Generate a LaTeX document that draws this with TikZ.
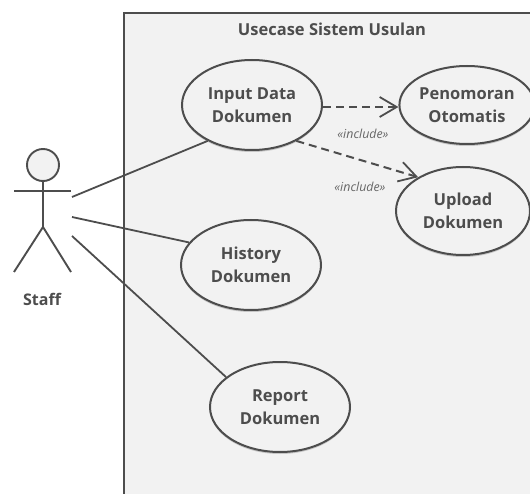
\documentclass[tikz,border=0pt]{standalone}
\usepackage{fontspec}
\setmainfont{Open Sans}
\usetikzlibrary{arrows.meta,shadows,shapes.geometric}
\definecolor{ink}{HTML}{4D4D4D}
\definecolor{boxfill}{HTML}{F2F2F2}
\definecolor{inc}{HTML}{666666}
\tikzset{
  uc/.style={ellipse, draw=ink, line width=2pt, fill=boxfill, inner sep=0pt,
    minimum width=#1, align=center, font=\fontsize{16.5}{23}\selectfont\bfseries, text=ink,
    drop shadow={shadow xshift=0pt, shadow yshift=-2pt, opacity=0.18, fill=black}},
  assoc/.style={draw=ink, line width=1.8pt},
  incl/.style={draw=ink, line width=2pt, dash pattern=on 8pt off 5pt, -{Straight Barb[length=17pt,width=20pt,line width=1.8pt]}},
  incllabel/.style={font=\fontsize{12.4}{14}\selectfont\itshape, text=inc},
  stick/.style={draw=ink, line width=1.9pt}
}
\begin{document}
\begin{tikzpicture}[x=1pt,y=-1pt]
\useasboundingbox (0,0) rectangle (530,494);
\clip (0,0) rectangle (530,494);
\fill[white] (0,0) rectangle (530,494);
% system boundary
\draw[draw=ink, line width=2pt, fill=boxfill] (124,13) rectangle (545,510);
\node[font=\fontsize{16.5}{18}\selectfont\bfseries, text=ink] (title) at (332,29) {Usecase Sistem Usulan};
% use cases
\node[uc=140pt, minimum height=90pt] (input) at (252,105) {Input Data\\Dokumen};
\node[uc=124pt, minimum height=78pt] (peno) at (467,105) {Penomoran\\Otomatis};
\node[uc=134pt, minimum height=88pt] (upload) at (463,211) {Upload\\Dokumen};
\node[uc=140pt, minimum height=90pt] (history) at (251,265) {History\\Dokumen};
\node[uc=140pt, minimum height=90pt] (report) at (280,407) {Report\\Dokumen};
% actor
\node[circle, draw=ink, line width=1.9pt, fill=boxfill, minimum size=32pt, inner sep=0pt,
  drop shadow={shadow xshift=0pt, shadow yshift=-1pt, opacity=0.15, fill=black}] (head) at (43,165) {};
\coordinate (hip) at (43,227);
\coordinate (armL) at (14,191);
\coordinate (armR) at (71,191);
\coordinate (legL) at (14,272);
\coordinate (legR) at (71,272);
\draw[stick] (head.south) -- (hip);
\draw[stick] (armL) -- (armR);
\draw[stick] (legL) -- (hip) -- (legR);
\node[font=\fontsize{16}{18}\selectfont\bfseries, text=ink] (staff) at (42,299) {Staff};
\coordinate (a1) at (72,197);
\coordinate (a2) at (72,217);
\coordinate (a3) at (72,236);
% associations
\draw[assoc] (a1) -- (input.219);
\draw[assoc] (a2) -- (history.160);
\draw[assoc] (a3) -- (report.151);
% includes
\draw[incl] (input.east |- 0,107) -- (peno.west |- 0,107);
\draw[incl] (input.-39) -- (upload.143);
\node[incllabel] (l1) at (363,134) {«include»};
\node[incllabel] (l2) at (360,187) {«include»};
\end{tikzpicture}
\end{document}
